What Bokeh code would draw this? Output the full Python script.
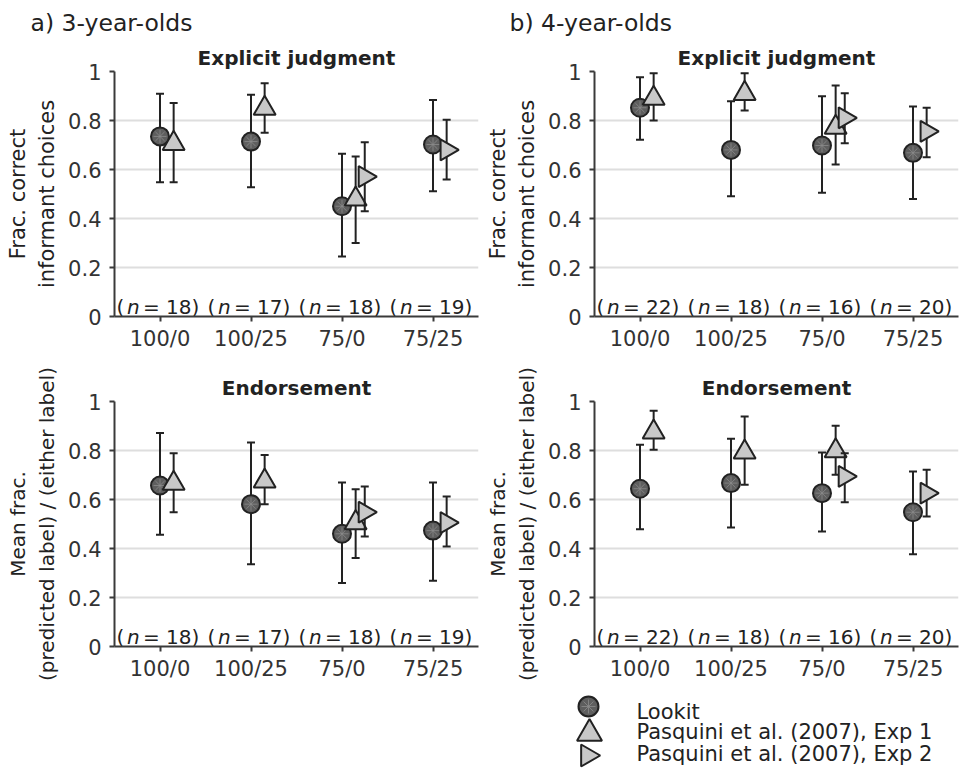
import math
from bokeh.plotting import figure
from bokeh.models import Range1d, FixedTicker, Title, Spacer
from bokeh.layouts import column, row
from bokeh.embed import file_html
from bokeh.resources import INLINE
from bokeh.core.properties import value

categories = ["100/0", "100/25", "75/0", "75/25"]
n_3yo = [18, 17, 18, 19]
n_4yo = [22, 18, 16, 20]

# ---- 3-year-olds, explicit judgment
a_exp_lookit = [0.735, 0.714, 0.450, 0.702]
a_exp_lookit_lo = [0.548, 0.528, 0.245, 0.511]
a_exp_lookit_hi = [0.909, 0.905, 0.664, 0.884]
a_exp_p1 = [0.706, 0.849, 0.479, None]
a_exp_p1_lo = [0.548, 0.750, 0.300, None]
a_exp_p1_hi = [0.871, 0.952, 0.653, None]
a_exp_p2 = [None, None, 0.571, 0.680]
a_exp_p2_lo = [None, None, 0.430, 0.559]
a_exp_p2_hi = [None, None, 0.711, 0.803]

# ---- 4-year-olds, explicit judgment
b_exp_lookit = [0.852, 0.680, 0.698, 0.668]
b_exp_lookit_lo = [0.721, 0.491, 0.505, 0.480]
b_exp_lookit_hi = [0.977, 0.879, 0.899, 0.857]
b_exp_p1 = [0.890, 0.910, 0.772, None]
b_exp_p1_lo = [0.800, 0.841, 0.620, None]
b_exp_p1_hi = [0.993, 0.993, 0.943, None]
b_exp_p2 = [None, None, 0.811, 0.756]
b_exp_p2_lo = [None, None, 0.707, 0.650]
b_exp_p2_hi = [None, None, 0.911, 0.852]

# ---- 3-year-olds, endorsement
a_end_lookit = [0.657, 0.581, 0.460, 0.473]
a_end_lookit_lo = [0.456, 0.336, 0.259, 0.268]
a_end_lookit_hi = [0.871, 0.833, 0.669, 0.669]
a_end_p1 = [0.666, 0.675, 0.505, None]
a_end_p1_lo = [0.548, 0.581, 0.361, None]
a_end_p1_hi = [0.789, 0.782, 0.642, None]
a_end_p2 = [None, None, 0.548, 0.506]
a_end_p2_lo = [None, None, 0.449, 0.408]
a_end_p2_hi = [None, None, 0.653, 0.612]

# ---- 4-year-olds, endorsement
b_end_lookit = [0.644, 0.667, 0.626, 0.548]
b_end_lookit_lo = [0.479, 0.486, 0.469, 0.377]
b_end_lookit_hi = [0.823, 0.848, 0.792, 0.714]
b_end_p1 = [0.875, 0.793, 0.798, None]
b_end_p1_lo = [0.803, 0.660, 0.701, None]
b_end_p1_hi = [0.962, 0.939, 0.901, None]
b_end_p2 = [None, None, 0.694, 0.626]
b_end_p2_lo = [None, None, 0.589, 0.531]
b_end_p2_hi = [None, None, 0.789, 0.721]

series_labels = ["Lookit", "Pasquini et al. (2007), Exp 1", "Pasquini et al. (2007), Exp 2"]

FONT = "DejaVu Sans"
TXT = "#333333"
DARK = "#222222"
LOOKIT_FILL = "#5e5e5e"
PASQ_FILL = "#c8c8c8"
SPOKE = "#8c8c8c"

FRAME_W = 364
FRAME_H = 245


def add_series(p, vals, lo, hi, offsets, kind):
    xs, ys, los, his = [], [], [], []
    for i, v in enumerate(vals):
        if v is None:
            continue
        xs.append(i + 1 + offsets[i])
        ys.append(v)
        los.append(lo[i])
        his.append(hi[i])
    p.segment(x0=xs, y0=los, x1=xs, y1=his, line_color=DARK, line_width=2)
    p.scatter(x=xs + xs, y=los + his, marker="dash", size=8, line_color=DARK, line_width=2)
    if kind == "lookit":
        p.scatter(x=xs, y=ys, marker="circle", size=18, fill_color=LOOKIT_FILL,
                  line_color=DARK, line_width=2)
        p.scatter(x=xs, y=ys, marker="asterisk", size=13, line_color=SPOKE, line_width=0.8)
    elif kind == "p1":
        p.scatter(x=xs, y=ys, marker="triangle", size=22, fill_color=PASQ_FILL,
                  line_color=DARK, line_width=2)
    else:
        p.scatter(x=xs, y=ys, marker="triangle", size=21, angle=-math.pi / 2,
                  fill_color=PASQ_FILL, line_color=DARK, line_width=2)


def make_panel(lookit, lookit_lo, lookit_hi, p1, p1_lo, p1_hi, p2, p2_lo, p2_hi,
               ns, title, ylabel, ylabel_size, headline=None, headline_offset=-85,
               right_border=2, top_border=71, bottom_border=36):
    p = figure(x_range=Range1d(0.5, 4.5), y_range=Range1d(0, 1),
               frame_width=FRAME_W, frame_height=FRAME_H,
               min_border_left=114, min_border_right=right_border,
               min_border_top=top_border, min_border_bottom=bottom_border,
               output_backend="svg", toolbar_location=None, title=None,
               background_fill_color="white", border_fill_color="white")
    p.outline_line_color = None

    p.add_layout(Title(text=title, align="center", text_font=FONT, text_font_size="20px",
                       text_font_style="bold", text_color=DARK, standoff=4), "above")
    if headline is not None:
        p.add_layout(Title(text=headline, align="left", offset=headline_offset, text_font=FONT,
                           text_font_size="23.5px", text_font_style="normal",
                           text_color=DARK, standoff=9), "above")

    # axes
    p.xaxis.ticker = FixedTicker(ticks=[1, 2, 3, 4])
    p.xaxis.major_label_overrides = {i + 1: c for i, c in enumerate(categories)}
    p.yaxis.ticker = FixedTicker(ticks=[0, 0.2, 0.4, 0.6, 0.8, 1])
    p.yaxis.major_label_overrides = {0: "0", 0.2: "0.2", 0.4: "0.4", 0.6: "0.6", 0.8: "0.8", 1: "1"}
    for ax in (p.xaxis, p.yaxis):
        ax.axis_line_color = "#3a3a3a"
        ax.axis_line_width = 2
        ax.major_tick_line_color = "#3a3a3a"
        ax.major_tick_line_width = 2
        ax.major_tick_out = 5
        ax.major_tick_in = 0
        ax.minor_tick_line_color = None
        ax.major_label_text_font = FONT
        ax.major_label_text_font_size = "21px"
        ax.major_label_text_color = TXT
    p.xaxis.major_label_standoff = 5
    p.yaxis.major_label_standoff = 8
    p.yaxis.axis_label = ylabel
    p.yaxis.axis_label_text_font = FONT
    p.yaxis.axis_label_text_font_size = ylabel_size
    p.yaxis.axis_label_text_font_style = "normal"
    p.yaxis.axis_label_text_color = DARK
    p.yaxis.axis_label_standoff = 6

    p.xgrid.grid_line_color = None
    p.ygrid.ticker = FixedTicker(ticks=[0.2, 0.4, 0.6, 0.8, 1])
    p.ygrid.grid_line_color = "#dedede"
    p.ygrid.grid_line_width = 2

    # (n = ..) labels, with an italic n
    cx = [i + 1 for i in range(len(categories))]
    zeros = [0] * len(categories)
    base = dict(text_font=value(FONT), text_font_size="20px", text_color=DARK,
                text_baseline="alphabetic", text_align="left", y_offset=-10)
    p.text(x=cx, y=zeros, text=["("] * len(cx), x_offset=-43.5, **base)
    p.text(x=cx, y=zeros, text=["n"] * len(cx), x_offset=-33, text_font_style="italic", **base)
    p.text(x=cx, y=zeros, text=["="] * len(cx), x_offset=-17, **base)
    p.text(x=cx, y=zeros, text=["%d)" % n for n in ns], x_offset=6, **base)

    # series
    lookit_off = [0.0] * 4
    p1_off = [0.15] * 4
    p2_off = [0.25 if p1[i] is not None else 0.15 for i in range(4)]
    add_series(p, lookit, lookit_lo, lookit_hi, lookit_off, "lookit")
    add_series(p, p1, p1_lo, p1_hi, p1_off, "p1")
    add_series(p, p2, p2_lo, p2_hi, p2_off, "p2")
    return p


YL_TOP = "Frac. correct\ninformant choices"
YL_BOT = "Mean frac.\n(predicted label) / (either label)"

tl = make_panel(a_exp_lookit, a_exp_lookit_lo, a_exp_lookit_hi, a_exp_p1, a_exp_p1_lo, a_exp_p1_hi,
                a_exp_p2, a_exp_p2_lo, a_exp_p2_hi, n_3yo, "Explicit judgment", YL_TOP, "21px",
                headline="a) 3-year-olds", headline_offset=-84, right_border=2,
                top_border=71, bottom_border=36)
tr = make_panel(b_exp_lookit, b_exp_lookit_lo, b_exp_lookit_hi, b_exp_p1, b_exp_p1_lo, b_exp_p1_hi,
                b_exp_p2, b_exp_p2_lo, b_exp_p2_hi, n_4yo, "Explicit judgment", YL_TOP, "21px",
                headline="b) 4-year-olds", headline_offset=-85, right_border=8,
                top_border=71, bottom_border=36)
bl = make_panel(a_end_lookit, a_end_lookit_lo, a_end_lookit_hi, a_end_p1, a_end_p1_lo, a_end_p1_hi,
                a_end_p2, a_end_p2_lo, a_end_p2_hi, n_3yo, "Endorsement", YL_BOT, "20px",
                right_border=2, top_border=48, bottom_border=36)
br = make_panel(b_end_lookit, b_end_lookit_lo, b_end_lookit_hi, b_end_p1, b_end_p1_lo, b_end_p1_hi,
                b_end_p2, b_end_p2_lo, b_end_p2_hi, n_4yo, "Endorsement", YL_BOT, "20px",
                right_border=8, top_border=48, bottom_border=36)

# legend (drawn below the right-hand column)
LEG_W, LEG_H = 486, 86
leg = figure(width=LEG_W, height=LEG_H, x_range=Range1d(0, LEG_W), y_range=Range1d(LEG_H, 0),
             output_backend="svg", toolbar_location=None, title=None,
             min_border=0, outline_line_color=None)
leg.axis.visible = False
leg.grid.visible = False
tx = 156
leg.scatter(x=[108], y=[23], marker="circle", size=20, fill_color=LOOKIT_FILL,
            line_color=DARK, line_width=2)
leg.scatter(x=[108], y=[23], marker="asterisk", size=14, line_color=SPOKE, line_width=0.8)
leg.scatter(x=[109], y=[50], marker="triangle", size=25, fill_color=PASQ_FILL,
            line_color=DARK, line_width=2)
leg.scatter(x=[107], y=[72], marker="triangle", size=22, angle=-math.pi / 2,
            fill_color=PASQ_FILL, line_color=DARK, line_width=2)
leg.text(x=[tx] * 3, y=[28, 48, 70], text=series_labels, text_font=value(FONT),
         text_font_size="21px", text_color=DARK, text_baseline="alphabetic", text_align="left")

layout = column(row(tl, tr), row(bl, br), row(Spacer(width=480, height=LEG_H), leg))
layout.spacing = 0

open("out.html", "w").write(file_html(layout, INLINE))
